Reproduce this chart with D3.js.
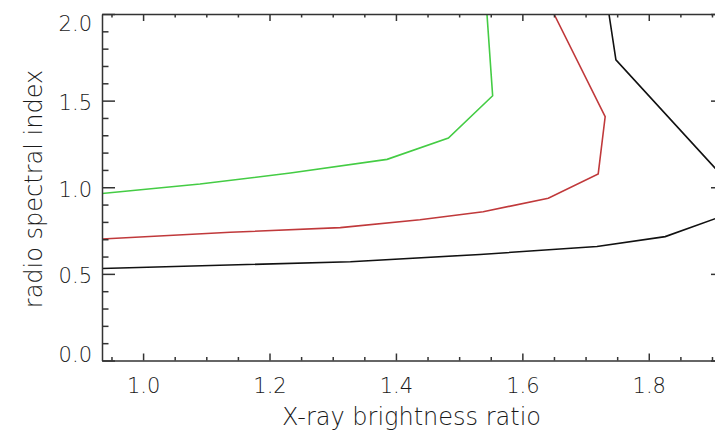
<!DOCTYPE html>
<html>
<head>
<meta charset="utf-8">
<script src="https://cdn.jsdelivr.net/npm/d3@7"></script>
<style>
  body { margin: 0; background: #fff; }
  text { font-family: "DejaVu Sans", sans-serif; font-weight: 200; fill: #1a1a1a; }
</style>
</head>
<body>
<div id="chart"></div>
<script>
// contour lines
const greenX = [0.935, 1.090, 1.233, 1.386, 1.483, 1.553, 1.544];
const greenY = [0.964, 1.019, 1.082, 1.161, 1.284, 1.528, 2.0];

const redX = [0.935, 1.138, 1.312, 1.438, 1.538, 1.641, 1.720, 1.731, 1.650];
const redY = [0.701, 0.740, 0.767, 0.812, 0.859, 0.936, 1.077, 1.407, 2.0];

const blackLowX = [0.935, 1.328, 1.533, 1.718, 1.826, 1.910];
const blackLowY = [0.531, 0.570, 0.612, 0.658, 0.715, 0.825];

const blackHighX = [1.737, 1.748, 1.910];
const blackHighY = [2.0, 1.735, 1.090];

const xTicks = [1.0, 1.2, 1.4, 1.6, 1.8];
const yTicks = [0.0, 0.5, 1.0, 1.5, 2.0];

const width = 715;
const height = 431;
const plotLeft = 102, plotRight = 724, plotTop = 14, plotBottom = 360.5;

const xScale = d3.scaleLinear().domain([0.935, 1.919]).range([plotLeft, plotRight]);
const yScale = d3.scaleLinear().domain([0, 2]).range([plotBottom, plotTop]);

const xMinor = d3.range(0.95, 1.92, 0.05).filter(v => !xTicks.some(t => Math.abs(t - v) < 1e-6));
const yMinor = d3.range(0.1, 2.0, 0.1).filter(v => !yTicks.some(t => Math.abs(t - v) < 1e-6));

const svg = d3.select('#chart')
    .append('svg')
        .attr('width', width)
        .attr('height', height);

svg.append('defs').append('clipPath').attr('id', 'plot')
    .append('rect')
        .attr('x', plotLeft).attr('y', plotTop)
        .attr('width', plotRight - plotLeft).attr('height', plotBottom - plotTop);

// curves
const line = d3.line().x(d => xScale(d[0])).y(d => yScale(d[1]));
const curves = [
    { xs: greenX, ys: greenY, colour: '#44cc44' },
    { xs: redX, ys: redY, colour: '#c0393b' },
    { xs: blackLowX, ys: blackLowY, colour: '#111' },
    { xs: blackHighX, ys: blackHighY, colour: '#111' }
];
svg.append('g').attr('clip-path', 'url(#plot)')
    .selectAll('path')
    .data(curves)
    .enter()
        .append('path')
            .attr('d', c => line(c.xs.map((x, i) => [x, c.ys[i]])))
            .attr('fill', 'none')
            .attr('stroke', c => c.colour)
            .attr('stroke-width', 1.6);

// axes, ticks pointing inwards like IDL
function styleAxis(g) {
    g.select('.domain').attr('stroke', '#333').attr('stroke-width', 1.5);
    g.selectAll('line').attr('stroke', '#333').attr('stroke-width', 1.5);
}

function minorTicks(axisFn, scale, vals, size, pos) {
    return svg.append('g')
        .attr('transform', pos)
        .call(axisFn(scale).tickValues(vals).tickSize(-size).tickFormat(''))
        .call(g => g.select('.domain').remove())
        .call(styleAxis);
}

const xBottom = svg.append('g')
    .attr('transform', `translate(0, ${plotBottom})`)
    .call(d3.axisBottom(xScale).tickValues(xTicks).tickSizeInner(-7).tickSizeOuter(0)
        .tickPadding(18).tickFormat(d3.format('.1f')))
    .call(styleAxis);
xBottom.selectAll('text').attr('font-size', 21).attr('fill', '#1a1a1a');

svg.append('g')
    .attr('transform', `translate(0, ${plotTop})`)
    .call(d3.axisTop(xScale).tickValues(xTicks).tickSizeInner(-7).tickSizeOuter(0).tickFormat(''))
    .call(styleAxis);

minorTicks(d3.axisBottom, xScale, xMinor, 3.5, `translate(0, ${plotBottom})`);
minorTicks(d3.axisTop, xScale, xMinor, 3.5, `translate(0, ${plotTop})`);

const yLeft = svg.append('g')
    .attr('transform', `translate(${plotLeft}, 0)`)
    .call(d3.axisLeft(yScale).tickValues(yTicks).tickSizeInner(-13).tickSizeOuter(0)
        .tickPadding(10).tickFormat(d3.format('.1f')))
    .call(styleAxis);
yLeft.selectAll('text')
    .attr('font-size', 21)
    .attr('fill', '#1a1a1a')
    .attr('dy', '0.42em')
    .attr('y', d => {
        const c = Math.min(Math.max(yScale(d), plotTop + 8), plotBottom - 8);
        return c - yScale(d);
    });

svg.append('g')
    .attr('transform', `translate(${plotRight}, 0)`)
    .call(d3.axisRight(yScale).tickValues(yTicks).tickSizeInner(-13).tickSizeOuter(0).tickFormat(''))
    .call(styleAxis);

minorTicks(d3.axisLeft, yScale, yMinor, 6.5, `translate(${plotLeft}, 0)`);
minorTicks(d3.axisRight, yScale, yMinor, 6.5, `translate(${plotRight}, 0)`);

// axis titles
svg.append('text')
    .attr('x', 411.5)
    .attr('y', 425)
    .attr('text-anchor', 'middle')
    .attr('font-size', 24)
    .text('X-ray brightness ratio');

svg.append('text')
    .attr('transform', 'translate(42, 189) rotate(-90)')
    .attr('text-anchor', 'middle')
    .attr('font-size', 24)
    .text('radio spectral index');
</script>
</body>
</html>
